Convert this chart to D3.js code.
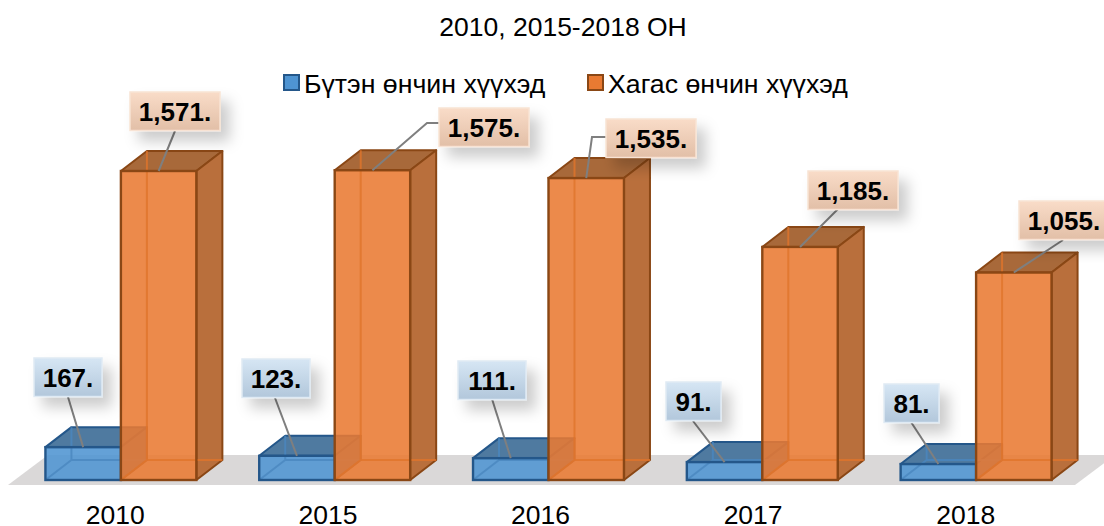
<!DOCTYPE html>
<html>
<head>
<meta charset="utf-8">
<script src="https://cdn.jsdelivr.net/npm/d3@7"></script>
<style>
    html, body { margin: 0; background: #fff; }
    text { font-family: "Liberation Sans", Arial, sans-serif; fill: #000; }
</style>
</head>
<body>
<svg id="chart" width="1104" height="526"></svg>
<script>
const title = '2010, 2015-2018 ОН';
const categories = ['2010', '2015', '2016', '2017', '2018'];
const seriesNames = ['Бүтэн өнчин хүүхэд', 'Хагас өнчин хүүхэд'];
const fullOrphans = [167, 123, 111, 91, 81];
const halfOrphans = [1571, 1575, 1535, 1185, 1055];

// label box top-left corner + leader elbow, per series (hand placed like the original)
const fullLabelPos = [[34, 358], [242, 359], [458, 361], [666, 382], [884, 384]];
const halfLabelPos = [[130, 92], [439, 108], [606, 119], [808, 171], [1019, 201]];
const fullLeaders = [[[68, 397]], [[275, 398]], [[492, 399]], [[693, 421]], [[911, 422]]];
const halfLeaders = [[[175, 131]], [[439, 123], [427, 123]], [[606, 137], [592, 137]], [[838, 209]], [[1063, 240]]];

const palette = [
    { front: '#4f94d2', side: '#4d7fae', top: '#4f7aa0', edge: '#24578a', inner: '#4a87bf', labelA: '#d6e6f4', labelB: '#b2c7db', labelEdge: '#dfeaf4' },
    { front: '#e97a32', side: '#b96f3c', top: '#a8693a', edge: '#8a4715', inner: '#e0742a', labelA: '#f9dcc8', labelB: '#e2bfa7', labelEdge: '#f8e3d4' }
];

const depthX = 26, depthY = -20, baseY = 480;
const svg = d3.select('#chart');

const x = d3.scaleBand().domain(categories).range([14, 1083]).paddingInner(0.294).paddingOuter(0.147);
const xInner = d3.scaleBand().domain([0, 1]).range([0, x.bandwidth()]);
const y = d3.scaleLinear().domain([0, 1571]).range([baseY, 171]);
const xAxisScale = d3.scaleBand().domain(categories).range([9, 1072]);

const defs = svg.append('defs');
const shadow = defs.append('filter').attr('id', 'shadow')
    .attr('x', '-30%').attr('y', '-30%').attr('width', '170%').attr('height', '190%');
shadow.append('feDropShadow').attr('dx', 9).attr('dy', 10).attr('stdDeviation', 7)
    .attr('flood-color', '#000').attr('flood-opacity', 0.2);
palette.forEach((p, i) => {
    const g = defs.append('linearGradient').attr('id', 'label' + i)
        .attr('x1', 0).attr('x2', 0).attr('y1', 0).attr('y2', 1);
    g.append('stop').attr('offset', 0).attr('stop-color', p.labelA);
    g.append('stop').attr('offset', 1).attr('stop-color', p.labelB);
});

const poly = pts => 'M' + pts.map(d => d.join(',')).join('L') + 'Z';

// floor
svg.append('path')
    .attr('d', poly([[8, 485], [48, 455], [1115, 455], [1075, 485]]))
    .attr('fill', '#dad8d8');

function drawBox(g, x0, w, value, p) {
    const top = y(value);
    const fx = [x0, x0 + w];
    const dx = depthX, dy = depthY;

    // hidden back edges
    const back = g.append('g');
    back.append('path').attr('d', poly([[fx[0], top], [fx[0] + dx, top + dy], [fx[1] + dx, top + dy], [fx[1], top]]))
        .attr('fill', p.top).attr('stroke', p.edge).attr('stroke-width', 2).attr('stroke-linejoin', 'round');
    back.append('path').attr('d', poly([[fx[1], top], [fx[1] + dx, top + dy], [fx[1] + dx, baseY + dy], [fx[1], baseY]]))
        .attr('fill', p.side).attr('stroke', p.edge).attr('stroke-width', 2).attr('stroke-linejoin', 'round');

    g.append('rect').attr('x', fx[0]).attr('y', top).attr('width', w).attr('height', baseY - top)
        .attr('fill', p.front).attr('fill-opacity', 0.88);

    g.append('path')
        .attr('d', `M${fx[0] + dx},${top + dy}V${baseY + dy}M${fx[0]},${baseY}L${fx[0] + dx},${baseY + dy}H${fx[1] + dx}`)
        .attr('fill', 'none').attr('stroke', p.inner).attr('stroke-width', 2).attr('stroke-opacity', 0.8);

    g.append('rect').attr('x', fx[0]).attr('y', top).attr('width', w).attr('height', baseY - top)
        .attr('fill', 'none').attr('stroke', p.edge).attr('stroke-width', 2.4);
}

categories.forEach((c, i) => {
    const g = svg.append('g').attr('class', 'cat-' + c);
    drawBox(g, x(c) + xInner(0), xInner.bandwidth(), fullOrphans[i], palette[0]);
    drawBox(g, x(c) + xInner(1), xInner.bandwidth(), halfOrphans[i], palette[1]);
});

// category labels
const axis = svg.append('g').attr('transform', 'translate(0,' + 500 + ')')
    .call(d3.axisBottom(xAxisScale).tickSize(0).tickPadding(5));
axis.select('.domain').remove();
axis.selectAll('text').style('font-size', '26.5px').style('font-family', '"Liberation Sans", Arial, sans-serif').attr('fill', '#000');

// leader lines
function drawLeaders(values, s, leaders) {
    categories.forEach((c, i) => {
        const end = [x(c) + xInner(s) + xInner.bandwidth() / 2, y(values[i])];
        svg.append('path')
            .attr('d', d3.line()(leaders[i].concat([end])))
            .attr('fill', 'none').attr('stroke', '#7f7f7f').attr('stroke-width', 2);
    });
}
drawLeaders(fullOrphans, 0, fullLeaders);
drawLeaders(halfOrphans, 1, halfLeaders);

// data labels
function drawLabels(values, s, pos) {
    const fmt = d3.format(',');
    values.forEach((v, i) => {
        const txt = fmt(v) + '.';
        const boxW = { 3: 55, 4: 68, 6: 90 }[txt.length];
        const g = svg.append('g').attr('transform', `translate(${pos[i][0]},${pos[i][1]})`);
        g.append('rect').attr('width', boxW).attr('height', 38.5)
            .attr('fill', `url(#label${s})`).attr('stroke', palette[s].labelEdge).attr('stroke-width', 1.5)
            .attr('filter', 'url(#shadow)');
        g.append('text').attr('x', boxW / 2).attr('y', 29).attr('text-anchor', 'middle')
            .style('font-size', '26px').style('font-weight', 'bold').text(txt);
    });
}
drawLabels(fullOrphans, 0, fullLabelPos);
drawLabels(halfOrphans, 1, halfLabelPos);

// title
svg.append('text').attr('x', 563).attr('y', 36).attr('text-anchor', 'middle')
    .style('font-size', '26.5px').text(title);

// legend
const legendX = [283, 587];
seriesNames.forEach((name, i) => {
    svg.append('rect').attr('x', legendX[i] + 1).attr('y', 75).attr('width', 15).attr('height', 15)
        .attr('fill', palette[i].front).attr('stroke', palette[i].edge).attr('stroke-width', 2);
    svg.append('text').attr('x', legendX[i] + 21).attr('y', 92.5)
        .style('font-size', '26.7px').text(name);
});
</script>
</body>
</html>
